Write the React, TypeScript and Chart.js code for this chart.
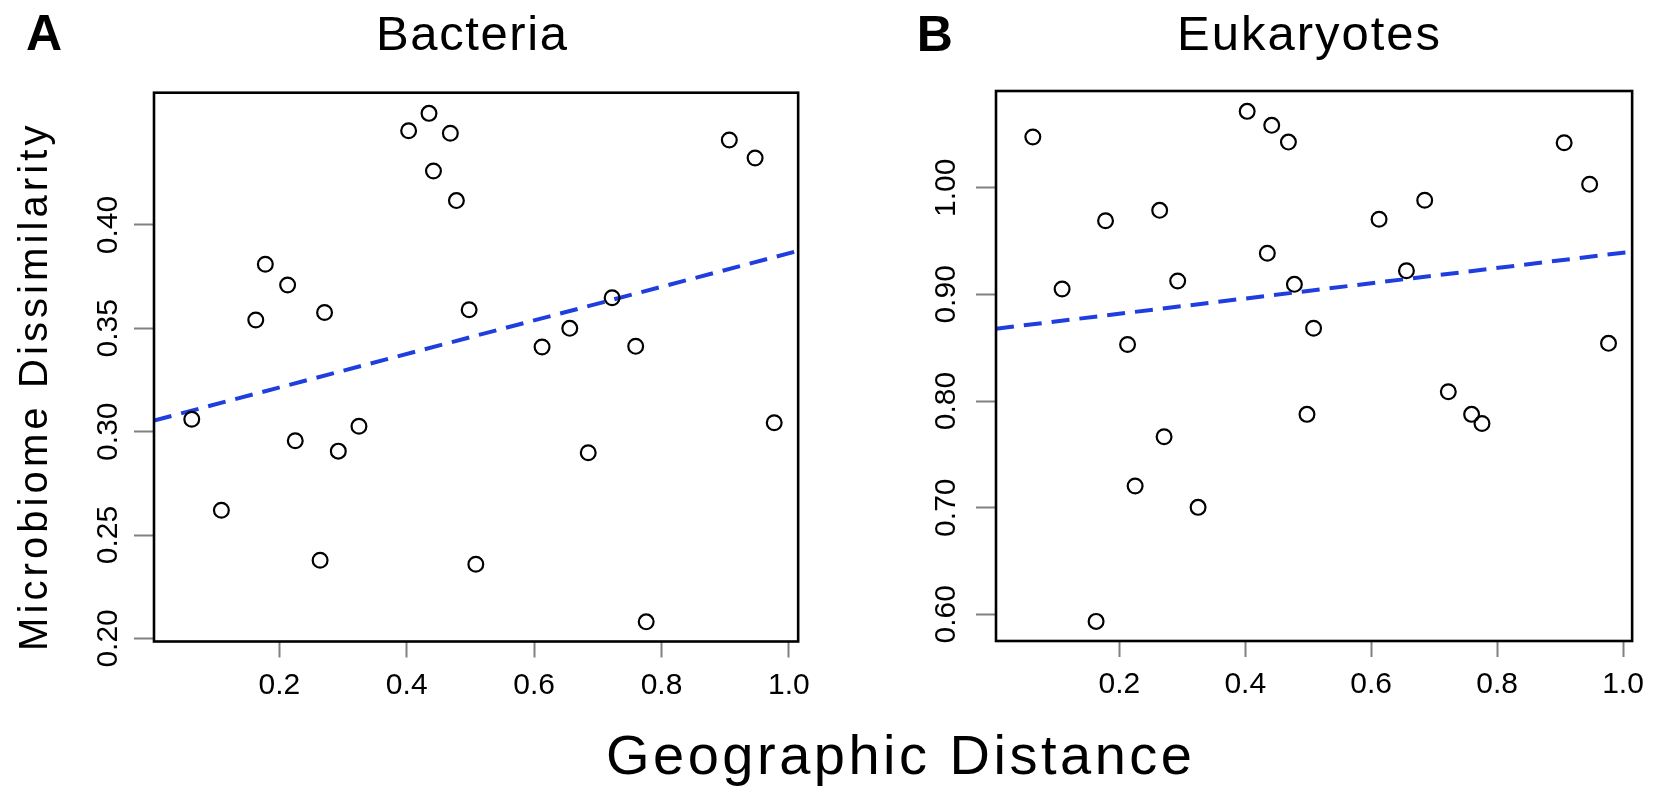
import React, { useEffect, useRef } from "react";
import { Chart, registerables } from "chart.js";

Chart.register(...registerables);

// Geographic distance of each site pair (shared by both panels)
const distance = [
  0.0625, 0.109, 0.163, 0.178, 0.213, 0.225, 0.264, 0.271, 0.2926, 0.325,
  0.403, 0.435, 0.442, 0.4685, 0.478, 0.498, 0.5085, 0.6125, 0.656, 0.685,
  0.7225, 0.7595, 0.776, 0.9065, 0.947, 0.977,
];

// Microbiome dissimilarity, bacteria
const bacteria = [
  0.306, 0.262, 0.354, 0.381, 0.371, 0.2956, 0.2378, 0.3577, 0.2906, 0.3026,
  0.4456, 0.454, 0.4261, 0.4444, 0.4118, 0.359, 0.2359, 0.341, 0.35, 0.2898,
  0.3648, 0.3413, 0.208, 0.4411, 0.4324, 0.3043,
];

// Microbiome dissimilarity, eukaryotes
const eukaryotes = [
  1.0475, 0.905, 0.5934, 0.969, 0.853, 0.7203, 0.9788, 0.7665, 0.9125, 0.7003,
  1.0716, 0.9385, 1.0585, 1.0428, 0.9094, 0.7875, 0.8682, 0.9704, 0.9222, 0.9882,
  0.8087, 0.7875, 0.779, 1.0422, 1.0032, 0.8541,
];

// Fitted trend lines (end points across the plotting range)
const fitXBacteria = [0.0032, 1.0146];
const fitYBacteria = [0.3054, 0.3875];
const fitXEukaryotes = [0.004, 1.0145];
const fitYEukaryotes = [0.8678, 0.9401];

// Axis ticks
const xTicks = [0.2, 0.4, 0.6, 0.8, 1.0];
const xTickLabels = ["0.2", "0.4", "0.6", "0.8", "1.0"];
const yTicksBacteria = [0.2, 0.25, 0.3, 0.35, 0.4];
const yTickLabelsBacteria = ["0.20", "0.25", "0.30", "0.35", "0.40"];
const yTicksEukaryotes = [0.6, 0.7, 0.8, 0.9, 1.0];
const yTickLabelsEukaryotes = ["0.60", "0.70", "0.80", "0.90", "1.00"];

const FONT = '"Liberation Sans", Arial, Helvetica, sans-serif';

type PanelCfg = {
  left: number;
  top: number;
  w: number;
  h: number;
  area: { left: number; right: number; top: number; bottom: number };
  xMin: number;
  xMax: number;
  yMin: number;
  yMax: number;
  ys: number[];
  fitX: number[];
  fitY: number[];
  yTicks: number[];
  yTickLabels: string[];
  yLabelBaseline: number;
};

function ScatterPanel({ cfg }: { cfg: PanelCfg }) {
  const ref = useRef<HTMLCanvasElement>(null);

  useEffect(() => {
    if (!ref.current) return;

    // Frame around the plotting region plus rotated y tick labels
    const framePlugin = {
      id: "frame",
      afterDraw(chart: any) {
        const { ctx, chartArea } = chart;
        const yScale = chart.scales.y;
        ctx.save();
        ctx.strokeStyle = "#000";
        ctx.lineWidth = 2.6;
        ctx.strokeRect(
          chartArea.left,
          chartArea.top,
          chartArea.right - chartArea.left,
          chartArea.bottom - chartArea.top
        );
        ctx.fillStyle = "#000";
        ctx.font = `30px ${FONT}`;
        ctx.textAlign = "center";
        ctx.textBaseline = "alphabetic";
        cfg.yTicks.forEach((v, i) => {
          const py = yScale.getPixelForValue(v);
          ctx.save();
          ctx.translate(cfg.yLabelBaseline, py);
          ctx.rotate(-Math.PI / 2);
          ctx.fillText(cfg.yTickLabels[i], 0, 0);
          ctx.restore();
        });
        ctx.restore();
      },
    };

    const chart = new Chart(ref.current, {
      type: "scatter",
      data: {
        datasets: [
          {
            data: distance.map((x, i) => ({ x, y: cfg.ys[i] })),
            pointStyle: "circle",
            pointRadius: 7.4,
            pointHoverRadius: 7.4,
            pointBorderWidth: 2.2,
            pointBorderColor: "#000",
            pointBackgroundColor: "rgba(0,0,0,0)",
            borderColor: "#000",
            backgroundColor: "rgba(0,0,0,0)",
            borderWidth: 2.2,
          },
          {
            type: "line",
            data: cfg.fitX.map((x, i) => ({ x, y: cfg.fitY[i] })),
            showLine: true,
            borderColor: "#1f3ee0",
            borderWidth: 4,
            borderDash: [18, 10],
            pointRadius: 0,
            fill: false,
          },
        ] as any,
      },
      options: {
        animation: false,
        responsive: false,
        maintainAspectRatio: false,
        events: [],
        layout: {
          padding: {
            left: 0,
            top: cfg.area.top,
            right: cfg.w - cfg.area.right,
            bottom: 0,
          },
        },
        plugins: {
          legend: { display: false },
          tooltip: { enabled: false },
          title: { display: false },
        },
        scales: {
          x: {
            type: "linear",
            min: cfg.xMin,
            max: cfg.xMax,
            afterBuildTicks: (s: any) => {
              s.ticks = xTicks.map((v) => ({ value: v }));
            },
            afterFit: (s: any) => {
              s.height = cfg.h - cfg.area.bottom;
            },
            ticks: {
              autoSkip: false,
              maxRotation: 0,
              minRotation: 0,
              color: "#000",
              padding: 10,
              font: { family: FONT, size: 30 },
              callback: (_v: any, i: number) => xTickLabels[i],
            },
            grid: {
              drawOnChartArea: false,
              drawTicks: true,
              tickLength: 16,
              tickColor: "#808080",
              tickWidth: 2,
            },
            border: { display: false },
          },
          y: {
            type: "linear",
            min: cfg.yMin,
            max: cfg.yMax,
            afterBuildTicks: (s: any) => {
              s.ticks = cfg.yTicks.map((v) => ({ value: v }));
            },
            afterFit: (s: any) => {
              s.width = cfg.area.left;
            },
            ticks: { display: false },
            grid: {
              drawOnChartArea: false,
              drawTicks: true,
              tickLength: 20,
              tickColor: "#808080",
              tickWidth: 2,
            },
            border: { display: false },
          },
        },
      } as any,
      plugins: [framePlugin],
    });

    return () => chart.destroy();
  }, [cfg]);

  return (
    <canvas
      ref={ref}
      width={cfg.w}
      height={cfg.h}
      style={{
        position: "absolute",
        left: cfg.left,
        top: cfg.top,
        width: cfg.w,
        height: cfg.h,
      }}
    />
  );
}

const panelBacteria: PanelCfg = {
  left: 60,
  top: 60,
  w: 760,
  h: 680,
  area: { left: 94, right: 740, top: 32.7, bottom: 581.5 },
  xMin: 0.0032,
  xMax: 1.0146,
  yMin: 0.1985,
  yMax: 0.464,
  ys: bacteria,
  fitX: fitXBacteria,
  fitY: fitYBacteria,
  yTicks: yTicksBacteria,
  yTickLabels: yTickLabelsBacteria,
  yLabelBaseline: 56.7,
};

const panelEukaryotes: PanelCfg = {
  left: 900,
  top: 60,
  w: 754,
  h: 680,
  area: { left: 96, right: 744, top: 31, bottom: 581 },
  xMin: 0.004,
  xMax: 1.0145,
  yMin: 0.575,
  yMax: 1.0907,
  ys: eukaryotes,
  fitX: fitXEukaryotes,
  fitY: fitYEukaryotes,
  yTicks: yTicksEukaryotes,
  yTickLabels: yTickLabelsEukaryotes,
  yLabelBaseline: 55,
};

function Label({
  text,
  left,
  top,
  size,
  bold,
  spacing,
  rotate,
}: {
  text: string;
  left: number;
  top: number;
  size: number;
  bold?: boolean;
  spacing?: number;
  rotate?: boolean;
}) {
  return (
    <div
      style={{
        position: "absolute",
        left,
        top,
        fontSize: size,
        lineHeight: `${size}px`,
        fontWeight: bold ? 700 : 400,
        letterSpacing: spacing ? `${spacing}px` : undefined,
        whiteSpace: "nowrap",
        transformOrigin: "0 0",
        transform: rotate ? "rotate(-90deg)" : undefined,
      }}
    >
      {text}
    </div>
  );
}

export default function App() {
  return (
    <div
      style={{
        position: "absolute",
        left: 0,
        top: 0,
        width: 1654,
        height: 807,
        overflow: "hidden",
        background: "#fff",
        color: "#000",
        fontFamily: FONT,
      }}
    >
      <ScatterPanel cfg={panelBacteria} />
      <ScatterPanel cfg={panelEukaryotes} />
      <Label text="A" left={26} top={7.7} size={50} bold />
      <Label text="B" left={916.8} top={9.4} size={50} bold />
      <Label text="Bacteria" left={376} top={9.1} size={49} spacing={1.6} />
      <Label text="Eukaryotes" left={1177} top={9.1} size={49} spacing={2} />
      <Label
        text="Microbiome Dissimilarity"
        left={12.8}
        top={651}
        size={40}
        spacing={4.1}
        rotate
      />
      <Label
        text="Geographic Distance"
        left={606}
        top={726.6}
        size={56}
        spacing={3.5}
      />
    </div>
  );
}
